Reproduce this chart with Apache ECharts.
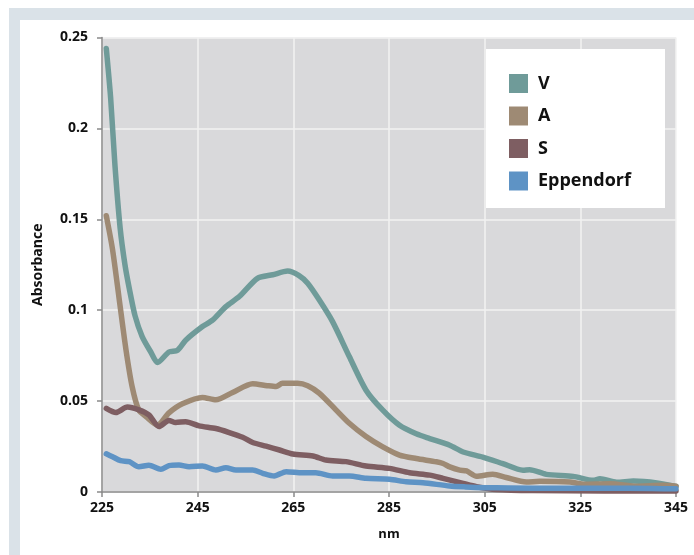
<!DOCTYPE html>
<html>
<head>
<meta charset="utf-8">
<script src="https://cdn.jsdelivr.net/npm/echarts@6/dist/echarts.min.js"></script>
<style>
  html, body { margin: 0; padding: 0; background: #ffffff; }
  #chart { width: 694px; height: 555px; }
</style>
</head>
<body>
<div id="chart"></div>
<script>
// Absorbance spectra (nm vs. absorbance) for four samples
const seriesNames = ['V', 'A', 'S', 'Eppendorf'];
const seriesColors = ['#6f9b99', '#9e8a74', '#7e5e62', '#5e93c5'];

const vNm  = [225.9, 226.8, 227.7, 228.8, 229.8, 230.7, 231.9, 233.4, 235.2, 236.6, 239, 240.8, 242.5, 246, 248.1, 250.9, 253.7, 257.5, 260.7, 263.8, 266.2, 268, 270.4, 273.2, 276.7, 280.2, 283.7, 287.2, 290.7, 293.5, 297.7, 300.5, 304.6, 308.8, 313, 314.4, 317.9, 323.5, 327.7, 329.1, 332.6, 336.1, 341, 345];
const vAbs = [0.244, 0.217, 0.18, 0.145, 0.125, 0.112, 0.097, 0.0855, 0.077, 0.0712, 0.077, 0.078, 0.0835, 0.091, 0.0945, 0.102, 0.1075, 0.1175, 0.1195, 0.1215, 0.119, 0.1148, 0.1057, 0.0937, 0.0745, 0.056, 0.045, 0.0367, 0.032, 0.0294, 0.0257, 0.022, 0.0192, 0.0156, 0.012, 0.0123, 0.0097, 0.0086, 0.0064, 0.0073, 0.0054, 0.006, 0.005, 0.003];

const aNm  = [225.9, 227.2, 228.6, 230, 231.3, 232.7, 234.2, 236.6, 239, 241.8, 246, 248.8, 252.3, 256.5, 259.5, 261.4, 262.7, 265.9, 268, 270.4, 273.9, 276.7, 280.2, 283.7, 287.2, 290.7, 294.9, 296.3, 297.7, 299.8, 301.2, 303.3, 306.7, 309.5, 313.7, 316.5, 322.8, 325.6, 331.2, 336.8, 342.3, 345];
const aAbs = [0.152, 0.1335, 0.106, 0.0785, 0.058, 0.045, 0.0415, 0.0368, 0.0435, 0.0485, 0.052, 0.0507, 0.0547, 0.0595, 0.0585, 0.058, 0.0598, 0.0598, 0.0585, 0.0544, 0.0452, 0.0378, 0.0305, 0.0248, 0.0203, 0.0184, 0.0166, 0.0157, 0.0138, 0.012, 0.0116, 0.0087, 0.0098, 0.008, 0.0055, 0.0059, 0.0055, 0.0043, 0.0046, 0.0032, 0.0037, 0.0032];

const sNm  = [225.9, 227.9, 230.3, 232.7, 234.8, 236.9, 239, 240.4, 242.5, 245.3, 248.8, 251.6, 254.4, 256.5, 259.3, 262.1, 264.9, 269.1, 271.8, 276, 280.2, 285.1, 289.3, 293.5, 296.3, 300.5, 303.3, 307.5, 315, 330, 345];
const sAbs = [0.046, 0.0437, 0.0467, 0.0452, 0.0424, 0.036, 0.0393, 0.0382, 0.0387, 0.0364, 0.0349, 0.0327, 0.0301, 0.0272, 0.0252, 0.0231, 0.0209, 0.0198, 0.0176, 0.0167, 0.0143, 0.013, 0.0106, 0.0093, 0.0075, 0.0047, 0.0029, 0.0014, 0.0008, 0.0006, 0.0005];

const eNm  = [225.9, 227.2, 228.9, 230.7, 232.7, 234.8, 237.3, 239, 241.1, 243.2, 246, 248.8, 250.9, 253, 256.5, 258.6, 261, 263.5, 266.9, 269.7, 273.2, 276.7, 280.2, 285.1, 288.6, 292.1, 297.7, 301, 305, 310, 320, 330, 340, 345];
const eAbs = [0.021, 0.0194, 0.0172, 0.0167, 0.0139, 0.0147, 0.0125, 0.0145, 0.0148, 0.0139, 0.0143, 0.0121, 0.0134, 0.0121, 0.0121, 0.0103, 0.0088, 0.0112, 0.0106, 0.0106, 0.0088, 0.0088, 0.0075, 0.007, 0.0056, 0.0051, 0.0033, 0.0028, 0.0024, 0.0022, 0.002, 0.0021, 0.0019, 0.0018];

const xTicks = { min: 225, max: 345, step: 20 };
const yTicks = { min: 0, max: 0.25, step: 0.05 };

const nmSets = [vNm, aNm, sNm, eNm];
const absSets = [vAbs, aAbs, sAbs, eAbs];

const FONT = '"Open Sans", "Liberation Sans", sans-serif';

const chart = echarts.init(document.getElementById('chart'), null, { renderer: 'canvas' });

const series = seriesNames.map((name, i) => ({
  name: name,
  type: 'line',
  data: nmSets[i].map((x, k) => [x, absSets[i][k]]),
  showSymbol: false,
  smooth: 0.25,
  lineStyle: { width: 5.5, color: seriesColors[i], cap: 'round', join: 'round' },
  itemStyle: { color: seriesColors[i] },
  z: 5 + i
}));

chart.setOption({
  animation: false,
  backgroundColor: '#ffffff',
  graphic: [
    // page frame bands
    { type: 'rect', shape: { x: 9, y: 8, width: 685, height: 12 }, style: { fill: '#dae2e8' }, z: 0 },
    { type: 'rect', shape: { x: 9, y: 8, width: 11, height: 547 }, style: { fill: '#dae2e8' }, z: 0 },
    // legend panel
    { type: 'rect', shape: { x: 486, y: 49, width: 179, height: 159 }, style: { fill: '#ffffff' }, z: 3 }
  ],
  grid: {
    left: 102, right: 18, top: 37.5, bottom: 63,
    show: true, backgroundColor: '#d9d9db', borderWidth: 0
  },
  legend: {
    data: seriesNames,
    orient: 'vertical',
    left: 504, top: 69,
    itemWidth: 19, itemHeight: 19, itemGap: 13.5,
    icon: 'rect',
    textStyle: { fontFamily: FONT, fontWeight: 'bold', fontSize: 18, color: '#111', padding: [0, 0, 0, 5] },
    z: 10
  },
  xAxis: {
    type: 'value',
    min: xTicks.min, max: xTicks.max, interval: xTicks.step,
    name: 'nm', nameLocation: 'middle', nameGap: 36,
    nameTextStyle: { fontFamily: FONT, fontWeight: 'bold', fontSize: 13, color: '#111' },
    axisLine: { show: true, lineStyle: { color: '#8a8a8a', width: 1.5 } },
    axisTick: { show: true, length: 5, lineStyle: { color: '#8a8a8a', width: 1.5 } },
    axisLabel: { margin: 9, fontFamily: FONT, fontWeight: 'bold', fontSize: 14, color: '#111' },
    splitLine: { show: true, lineStyle: { color: '#f2f2f2', width: 1.5 } }
  },
  yAxis: {
    type: 'value',
    min: yTicks.min, max: yTicks.max, interval: yTicks.step,
    name: 'Absorbance', nameLocation: 'middle', nameGap: 57,
    nameTextStyle: { fontFamily: FONT, fontWeight: 'bold', fontSize: 14, color: '#111' },
    axisLine: { show: true, lineStyle: { color: '#8a8a8a', width: 1.5 } },
    axisTick: { show: true, length: 5, lineStyle: { color: '#8a8a8a', width: 1.5 } },
    axisLabel: { margin: 14, fontFamily: FONT, fontWeight: 'bold', fontSize: 14, color: '#111' },
    splitLine: { show: true, lineStyle: { color: '#f2f2f2', width: 1.5 } }
  },
  series: series
});
</script>
</body>
</html>
